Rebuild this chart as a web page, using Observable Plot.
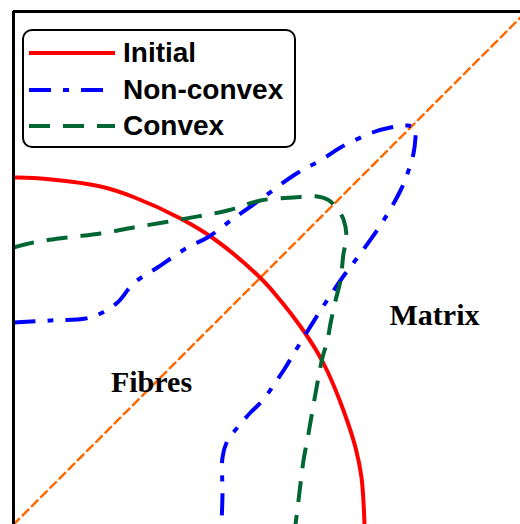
<!DOCTYPE html>
<html>
<head>
<meta charset="utf-8">
<script src="https://cdn.jsdelivr.net/npm/d3@7"></script>
<script src="https://cdn.jsdelivr.net/npm/@observablehq/plot@0.6"></script>
<style>
  html, body { margin: 0; padding: 0; background: #fff; }
  #wrap { position: relative; width: 520px; height: 524px; overflow: hidden; }
  #legend {
    position: absolute; left: 22px; top: 29px; width: 270px; height: 115px;
    border: 2px solid #000; border-radius: 10px; background: #fff;
    font-family: "Liberation Sans", Arial, sans-serif; font-weight: bold; font-size: 28px;
  }
  .item { position: absolute; left: 0; height: 36px; display: flex; align-items: center; }
  .item svg { margin-left: 5px; margin-right: 8px; }
</style>
</head>
<body>
<div id="wrap"><div id="legend"></div></div>
<script>
// Series (x, y)
const initialX = [0, 0.20, 0.87, 1.20, 1.67, 2.00, 2.47, 2.67, 2.87, 3.04, 3.14, 3.30, 3.42, 3.48, 3.51];
const initialY = [3.47, 3.465, 3.38, 3.275, 3.06, 2.86, 2.465, 2.24, 1.98, 1.72, 1.53, 1.14, 0.77, 0.47, 0];

const nonconvexX = [0, 0.37, 0.72, 0.87, 1.04, 1.20, 1.44, 1.74, 1.94, 2.20, 2.47, 2.80, 3.10, 3.27, 3.59, 3.77, 3.94, 4.02, 4.02, 4.00, 3.94, 3.87, 3.70, 3.47, 3.29, 3.07, 2.84, 2.70, 2.49, 2.37, 2.24, 2.14, 2.09, 2.09, 2.08];
const nonconvexY = [2.02, 2.04, 2.06, 2.11, 2.22, 2.41, 2.57, 2.77, 2.87, 3.06, 3.25, 3.49, 3.66, 3.77, 3.92, 3.97, 3.99, 3.96, 3.87, 3.71, 3.51, 3.34, 3.04, 2.71, 2.47, 2.14, 1.77, 1.54, 1.24, 1.12, 0.97, 0.84, 0.67, 0.31, 0];

const convexX = [0, 0.20, 0.54, 0.87, 1.20, 1.67, 2.14, 2.47, 2.80, 3.04, 3.14, 3.22, 3.30, 3.33, 3.30, 3.27, 3.22, 3.17, 3.14, 3.09, 3.02, 2.95, 2.90, 2.85, 2.82];
const convexY = [2.77, 2.82, 2.87, 2.91, 2.97, 3.05, 3.14, 3.24, 3.27, 3.28, 3.25, 3.18, 3.05, 2.87, 2.71, 2.44, 2.24, 2.01, 1.84, 1.67, 1.31, 0.91, 0.64, 0.24, 0];

const diagX = [0, 5.3];
const diagY = [0, 5.3];

const seriesNames = ["Initial", "Non-convex", "Convex"];
const seriesColors = ["#ff0000", "#0000ff", "#006633"];
const seriesDash = [null, "22,12,6,12", "21,13"];

const regionLabels = ["Fibres", "Matrix"];
const regionX = [1.38, 4.21];
const regionY = [1.42, 2.09];

const xMax = 5.07, yMax = 5.13;

const zip = (xs, ys) => xs.map((x, i) => ({x, y: ys[i]}));
const initial = zip(initialX, initialY);
const nonconvex = zip(nonconvexX, nonconvexY);
const convex = zip(convexX, convexY);
const diag = zip(diagX, diagY);
const labels = regionLabels.map((t, i) => ({t, x: regionX[i], y: regionY[i]}));

const chart = Plot.plot({
  width: 520, height: 524,
  marginLeft: 13, marginTop: 11, marginRight: 0, marginBottom: 0,
  x: {domain: [0, xMax], axis: null},
  y: {domain: [0, yMax], axis: null},
  style: {background: "transparent"},
  marks: [
    Plot.line(diag, {x: "x", y: "y", stroke: "#ff6a00", strokeWidth: 2.5, strokeDasharray: "8,5", clip: true}),
    Plot.line(initial, {x: "x", y: "y", stroke: seriesColors[0], strokeWidth: 4, curve: "catmull-rom", clip: true}),
    Plot.line(nonconvex, {x: "x", y: "y", stroke: seriesColors[1], strokeWidth: 4, strokeDasharray: seriesDash[1], strokeLinecap: "butt", curve: "catmull-rom", clip: true}),
    Plot.line(convex, {x: "x", y: "y", stroke: seriesColors[2], strokeWidth: 4, strokeDasharray: seriesDash[2], strokeLinecap: "butt", curve: "catmull-rom", clip: true}),
    Plot.text(labels, {x: "x", y: "y", text: "t", fontSize: 30, fontWeight: "bold", fontFamily: "Liberation Serif, Times New Roman, serif", fill: "#000"}),
    Plot.ruleX([0], {stroke: "#000", strokeWidth: 3}),
    Plot.ruleY([yMax], {stroke: "#000", strokeWidth: 3})
  ]
});
const wrap = document.getElementById("wrap");
wrap.insertBefore(chart, wrap.firstChild);

const legend = document.getElementById("legend");
seriesNames.forEach((name, i) => {
  const item = document.createElement("div");
  item.className = "item";
  item.style.top = (4 + i * 36.5) + "px";
  const ns = "http://www.w3.org/2000/svg";
  const svg = document.createElementNS(ns, "svg");
  svg.setAttribute("width", 86); svg.setAttribute("height", 10);
  const ln = document.createElementNS(ns, "line");
  ln.setAttribute("x1", 0); ln.setAttribute("x2", 86);
  ln.setAttribute("y1", 5); ln.setAttribute("y2", 5);
  ln.setAttribute("stroke", seriesColors[i]);
  ln.setAttribute("stroke-width", 4);
  if (seriesDash[i]) ln.setAttribute("stroke-dasharray", seriesDash[i]);
  svg.appendChild(ln);
  item.appendChild(svg);
  const span = document.createElement("span");
  span.textContent = name;
  item.appendChild(span);
  legend.appendChild(item);
});
</script>
</body>
</html>
